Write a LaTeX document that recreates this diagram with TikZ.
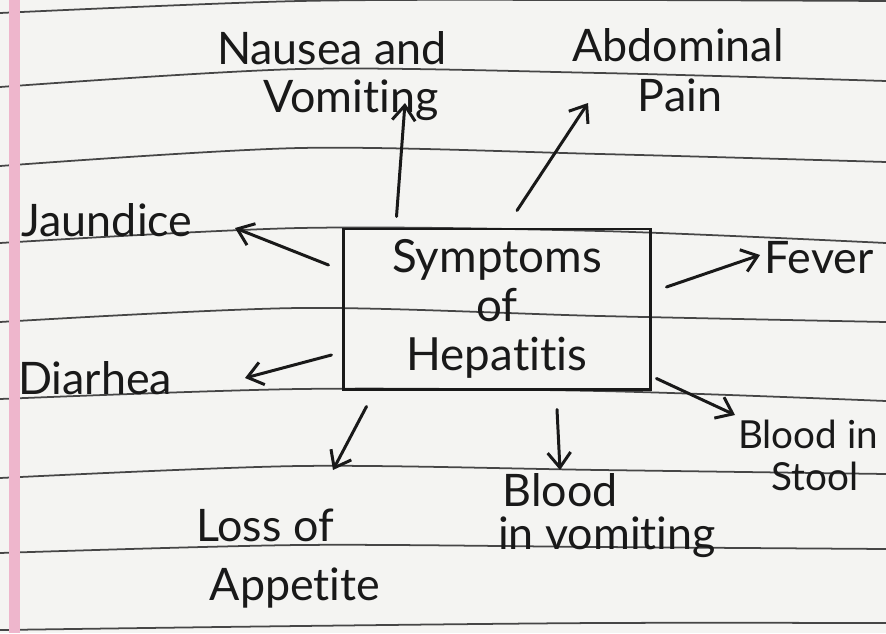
\documentclass[tikz,border=0pt]{standalone}
\usepackage{fontspec}
\setmainfont{Lato}[Ligatures={NoCommon}]
\usetikzlibrary{arrows.meta}
\definecolor{ink}{RGB}{25,25,25}
\definecolor{ruling}{RGB}{70,70,70}
\definecolor{margin}{RGB}{238,182,204}
\definecolor{paper}{RGB}{244,244,242}
\begin{document}
\begin{tikzpicture}[x=0.2mm, y=-0.2mm,
    inkline/.style={draw=ink, line width=1.7pt, line cap=round},
    arr/.style={inkline, -{Straight Barb[length=3mm,width=4.6mm]}},
    ruleline/.style={draw=ruling, line width=1pt},
    lbl/.style={font=\fontsize{25.5}{28}\selectfont, text=ink, inner sep=0pt},
    small lbl/.style={lbl, font=\fontsize{22}{24}\selectfont},
    box/.style={inkline, align=center, minimum width=61.4mm, minimum height=32mm,
                font=\fontsize{26}{28}\selectfont, text=ink}]
    \useasboundingbox (0,0) rectangle (886,633);
    \fill[paper] (0,0) rectangle (886,633);
    % ruled paper
    \foreach \a/\b/\c/\d in {13/1/0/1, 87/69/73/81, 166/148/154/162, 243/228/231/243,
        322/308/316/322, 399/389/391/401, 478/466/470/474, 553/545/547/549, 630/626/623/623}
        \draw[ruleline] plot[smooth] coordinates {(0,\a) (300,\b) (600,\c) (886,\d)};
    \fill[margin] (9,0) rectangle (20,633);
    % centre box
    \node[box] (hep) at (497,309) {Symptoms\\ of\\ Hepatitis};
    % labels
    \node[lbl] (nau) at (332,48) {Nausea and};
    \node[lbl] (vom) at (351,100) {Vomiting};
    \node[lbl] (abd) at (678,45) {Abdominal};
    \node[lbl] (pain) at (680,95) {Pain};
    \node[lbl] (jau) at (107,220) {Jaundice};
    \node[lbl] (fev) at (819,258) {Fever};
    \node[lbl] (dia) at (95,378) {Diarhea};
    \node[small lbl] (bis) at (808,434) {Blood in};
    \node[small lbl] (sto) at (815,476) {Stool};
    \node[lbl] (los) at (265,525) {Loss of};
    \node[lbl] (app) at (295,588) {Appetite};
    \node[lbl] (blo) at (560,490) {Blood};
    \node[lbl] (inv) at (607,537) {in vomiting};
    % arrows
    \draw[arr] ([shift={(54.5,-11)}]hep.north west) -- ([shift={(54,3)}]vom.center);
    \draw[arr] ([shift={(20,-17)}]hep.north) -- ([shift={(-92,8)}]pain.center);
    \draw[arr] ([shift={(-13.5,-44)}]hep.west) -- ([shift={(128,8)}]jau.center);
    \draw[arr] ([shift={(14.5,-22)}]hep.east) -- ([shift={(-59,-3)}]fev.center);
    \draw[arr] ([shift={(-10.5,46)}]hep.west) -- ([shift={(150,0)}]dia.center);
    \draw[arr] ([shift={(4.5,-12)}]hep.south east) -- ([shift={(-73,-19)}]bis.center);
    \draw[arr] ([shift={(24.5,16)}]hep.south west) -- ([shift={(68,-55)}]los.center);
    \draw[arr] ([shift={(60,19)}]hep.south) -- ([shift={(0,-20)}]blo.center);
\end{tikzpicture}
\end{document}
